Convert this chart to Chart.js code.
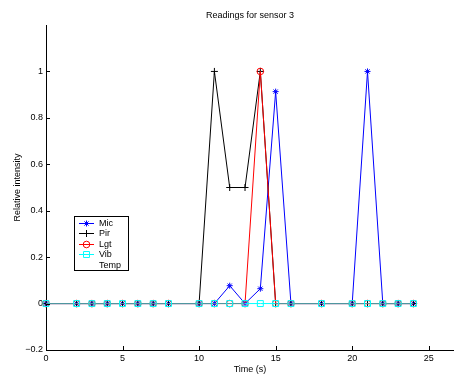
<!DOCTYPE html>
<html>
<head>
<meta charset="utf-8">
<script src="https://cdn.jsdelivr.net/npm/chart.js@4.4.1/dist/chart.umd.min.js"></script>
<style>
    body { margin: 0; background: #fff; }
    canvas { display: block; }
</style>
</head>
<body>
<canvas id="grafico-sensor" width="454" height="379"></canvas>
<script>
// ================================================================
// Readings for sensor 3
// ================================================================

const tempos = [0, 2, 3, 4, 5, 6, 7, 8, 10, 11, 12, 13, 14, 15, 16, 18, 20, 21, 22, 23, 24];

const valMic  = [0, 0, 0, 0, 0, 0, 0, 0, 0, 0, 0.077, 0, 0.064, 0.913, 0, 0, 0, 1, 0, 0, 0];
const valPir  = [0, 0, 0, 0, 0, 0, 0, 0, 0, 1, 0.5, 0.5, 1, 0, 0, 0, 0, 0, 0, 0, 0];
const valLgt  = [0, 0, 0, 0, 0, 0, 0, 0, 0, 0, 0, 0, 1, 0, 0, 0, 0, 0, 0, 0, 0];
const valVib  = [0, 0, 0, 0, 0, 0, 0, 0, 0, 0, 0, 0, 0, 0, 0, 0, 0, 0, 0, 0, 0];
const valTemp = [null, null, null, null, null, null, null, null, null, null, null,
                 null, null, null, null, null, null, null, null, null, null];

const ticksX = [0, 5, 10, 15, 20, 25];
const ticksY = [-0.2, 0, 0.2, 0.4, 0.6, 0.8, 1];

const FONTE = '"Liberation Sans", Arial, Helvetica, sans-serif';

const pontos = arr => arr.map((v, i) => ({ x: tempos[i], y: v }));

// linha de zero parece mais escura onde as outras séries se sobrepõem
function corZeroVib(c) {
    const a = c.p0DataIndex, b = c.p1DataIndex;
    const livre = [valMic, valPir, valLgt].every(s => s[a] !== 0 || s[b] !== 0);
    return livre ? '#00ffff' : '#44a0aa';
}

// ticks para dentro, estilo MATLAB
const ticksInternos = {
    id: 'ticksInternos',
    afterDraw(chart) {
        const { ctx, chartArea, scales } = chart;
        ctx.save();
        ctx.strokeStyle = '#000';
        ctx.lineWidth = 1;
        ctx.beginPath();
        ticksY.forEach(v => {
            const py = Math.round(scales.y.getPixelForValue(v)) + 0.5;
            ctx.moveTo(chartArea.left, py);
            ctx.lineTo(chartArea.left + 4, py);
        });
        ticksX.forEach(v => {
            const px = Math.round(scales.x.getPixelForValue(v)) + 0.5;
            ctx.moveTo(px, chartArea.bottom);
            ctx.lineTo(px, chartArea.bottom - 4);
        });
        ctx.stroke();
        ctx.restore();
    }
};

// legenda dentro do gráfico
const legendaInterna = {
    id: 'legendaInterna',
    afterDraw(chart) {
        const ctx = chart.ctx;
        const bx = 74.5, by = 216.5, bw = 54, bh = 54;
        ctx.save();
        ctx.fillStyle = '#fff';
        ctx.fillRect(bx, by, bw, bh);
        ctx.strokeStyle = '#000';
        ctx.lineWidth = 1;
        ctx.strokeRect(bx, by, bw, bh);
        ctx.font = '9px ' + FONTE;
        ctx.textBaseline = 'middle';
        chart.data.datasets.forEach((ds, i) => {
            const y = Math.round(222.7 + i * 10.5) + 0.5;
            if (ds.legendaCor) {
                ctx.strokeStyle = ds.legendaCor;
                ctx.lineWidth = 1;
                ctx.beginPath();
                ctx.moveTo(79, y);
                ctx.lineTo(94, y);
                ctx.stroke();
                ctx.fillStyle = ds.backgroundColor;
                Chart.helpers.drawPoint(ctx, {
                    pointStyle: ds.pointStyle,
                    rotation: 0,
                    radius: ds.pointRadius,
                    borderWidth: 1
                }, 86.5, y);
            }
            ctx.fillStyle = '#000';
            ctx.fillText(ds.label, 99, y + 0.5);
        });
        ctx.restore();
    }
};

new Chart(document.getElementById('grafico-sensor'), {
    type: 'line',
    data: {
        datasets: [
            {
                label: 'Mic', data: pontos(valMic), order: 3,
                borderColor: '#0000ff', backgroundColor: '#0000ff', legendaCor: '#0000ff',
                pointStyle: 'star', pointRadius: 3, pointBorderWidth: 1
            },
            {
                label: 'Pir', data: pontos(valPir), order: 2,
                borderColor: '#000000', backgroundColor: '#000000', legendaCor: '#000000',
                pointStyle: 'cross', pointRadius: 3.5, pointBorderWidth: 1
            },
            {
                label: 'Lgt', data: pontos(valLgt), order: 1,
                borderColor: '#ff0000', backgroundColor: 'rgba(0,0,0,0)', legendaCor: '#ff0000',
                pointStyle: 'circle', pointRadius: 3.3, pointBorderWidth: 1
            },
            {
                label: 'Vib', data: pontos(valVib), order: 0,
                borderColor: '#00ffff', backgroundColor: 'rgba(0,0,0,0)', legendaCor: '#00ffff',
                pointStyle: 'rect', pointRadius: 4.2, pointBorderWidth: 1,
                pointBorderColor: '#00ffff',
                segment: { borderColor: corZeroVib }
            },
            {
                label: 'Temp', data: pontos(valTemp), order: 4,
                borderColor: 'rgba(0,0,0,0)', backgroundColor: 'rgba(0,0,0,0)', legendaCor: null,
                pointRadius: 0
            }
        ]
    },
    options: {
        responsive: false,
        animation: false,
        events: [],
        layout: { padding: 0, autoPadding: false },
        elements: {
            line: { borderWidth: 1, tension: 0, fill: false },
            point: { hoverRadius: 3 }
        },
        datasets: { line: { clip: false, spanGaps: false } },
        plugins: {
            legend: { display: false },
            tooltip: { enabled: false },
            title: {
                display: true,
                fullSize: false,
                text: 'Readings for sensor 3',
                color: '#000',
                font: { family: FONTE, size: 9, weight: 'normal', lineHeight: 1.2 },
                padding: { top: 10, bottom: 4.2 }
            }
        },
        scales: {
            x: {
                type: 'linear',
                min: 0,
                max: 26.65,
                afterFit: s => { s.height = 29; s.paddingLeft = 0; s.paddingRight = 0; },
                afterBuildTicks: s => { s.ticks = ticksX.map(v => ({ value: v })); },
                grid: { display: false, drawTicks: false },
                border: { display: true, color: '#000', width: 1 },
                ticks: {
                    color: '#000', padding: 3, maxRotation: 0,
                    font: { family: FONTE, size: 9 },
                    callback: v => String(v)
                },
                title: {
                    display: true, text: 'Time (s)', color: '#000',
                    font: { family: FONTE, size: 9, lineHeight: 1.2 },
                    padding: { top: 4, bottom: 4 }
                }
            },
            y: {
                type: 'linear',
                min: -0.2,
                max: 1.2,
                afterFit: s => { s.width = 46; s.paddingTop = 0; s.paddingBottom = 0; },
                afterBuildTicks: s => { s.ticks = ticksY.map(v => ({ value: v })); },
                grid: { display: false, drawTicks: false },
                border: { display: true, color: '#000', width: 1 },
                ticks: {
                    color: '#000', padding: 3,
                    font: { family: FONTE, size: 9 },
                    callback: v => {
                        const t = String(Math.round(v * 10) / 10);
                        return t.replace('-', '\u2212');
                    }
                },
                title: {
                    display: true, text: 'Relative intensity', color: '#000',
                    font: { family: FONTE, size: 9, lineHeight: 1.2 },
                    padding: { top: 12, bottom: 12 }
                }
            }
        }
    },
    plugins: [ticksInternos, legendaInterna]
});
</script>
</body>
</html>
